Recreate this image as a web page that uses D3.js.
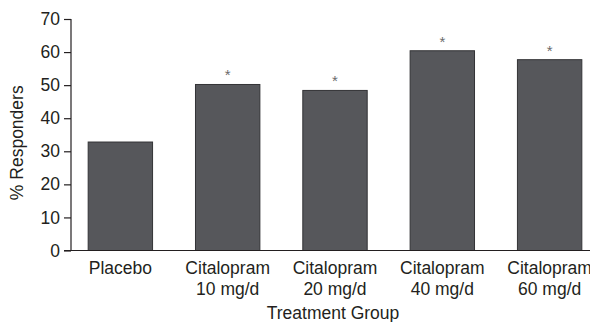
<!DOCTYPE html>
<html>
<head>
<meta charset="utf-8">
<script src="https://cdn.jsdelivr.net/npm/d3@7"></script>
<style>
  body { margin: 0; background: #fff; }
  svg { display: block; }
</style>
</head>
<body>
<div id="chart"></div>
<script>
const groups = ["Placebo", "Citalopram 10 mg/d", "Citalopram 20 mg/d", "Citalopram 40 mg/d", "Citalopram 60 mg/d"];
const responders = [32.8, 50.2, 48.4, 60.4, 57.7];
const significant = [false, true, true, true, true];
const yTicks = [0, 10, 20, 30, 40, 50, 60, 70];

const width = 590,
  height = 322,
  fontSize = "17.5px";

const svg = d3.select("#chart").append("svg")
  .attr("width", width)
  .attr("height", height)
  .style("font-family", "'Liberation Sans', Arial, sans-serif");

const x = d3.scaleBand()
  .domain(groups)
  .range([71, 599])
  .paddingInner(0.4)
  .paddingOuter(0.16);

const y = d3.scaleLinear()
  .domain([0, 70])
  .range([250.5, 19]);

const textColor = "#231f20";

// bars
svg.append("g")
  .selectAll("rect")
  .data(groups)
  .join("rect")
  .attr("x", d => x(d))
  .attr("y", (d, i) => y(responders[i]))
  .attr("width", x.bandwidth())
  .attr("height", (d, i) => y(0) - y(responders[i]))
  .attr("fill", "#56575b")
  .attr("stroke", "#333336")
  .attr("stroke-width", 1);

// asterisks
svg.append("g")
  .selectAll("text")
  .data(groups.filter((d, i) => significant[i]))
  .join("text")
  .attr("x", d => x(d) + x.bandwidth() / 2)
  .attr("y", d => y(responders[groups.indexOf(d)]) - 4)
  .attr("text-anchor", "middle")
  .attr("fill", "#6b6b6b")
  .style("font-size", "15px")
  .text("*");

// y axis
const yAxis = svg.append("g")
  .attr("transform", "translate(71,0)")
  .call(d3.axisLeft(y).tickValues(yTicks).tickSize(7).tickPadding(4));
yAxis.select(".domain").attr("d", `M0,${y(70)}V${y(0)}`);
yAxis.selectAll("line, path").attr("stroke", textColor).attr("stroke-width", 1.2);
yAxis.selectAll("text")
  .attr("fill", textColor)
  .style("font-size", fontSize)
  .style("font-family", "'Liberation Sans', Arial, sans-serif");

// x axis baseline
svg.append("line")
  .attr("x1", 64)
  .attr("x2", width)
  .attr("y1", y(0))
  .attr("y2", y(0))
  .attr("stroke", textColor)
  .attr("stroke-width", 1.2);

// category labels
const labels = svg.append("g")
  .selectAll("text")
  .data(groups)
  .join("text")
  .attr("x", d => x(d) + x.bandwidth() / 2)
  .attr("y", 274)
  .attr("text-anchor", "middle")
  .attr("fill", textColor)
  .style("font-size", fontSize);

labels.each(function (d) {
  const t = d3.select(this);
  const parts = d.startsWith("Citalopram") ? ["Citalopram", d.replace("Citalopram ", "")] : [d];
  parts.forEach((p, k) => {
    t.append("tspan")
      .attr("x", x(d) + x.bandwidth() / 2)
      .attr("dy", k === 0 ? 0 : 21)
      .text(p);
  });
});

// axis titles
svg.append("text")
  .attr("x", 333)
  .attr("y", 319)
  .attr("text-anchor", "middle")
  .attr("fill", textColor)
  .style("font-size", fontSize)
  .text("Treatment Group");

svg.append("text")
  .attr("transform", `translate(23,${(y(0) + y(70)) / 2 + 8}) rotate(-90)`)
  .attr("text-anchor", "middle")
  .attr("fill", textColor)
  .style("font-size", fontSize)
  .text("% Responders");
</script>
</body>
</html>
